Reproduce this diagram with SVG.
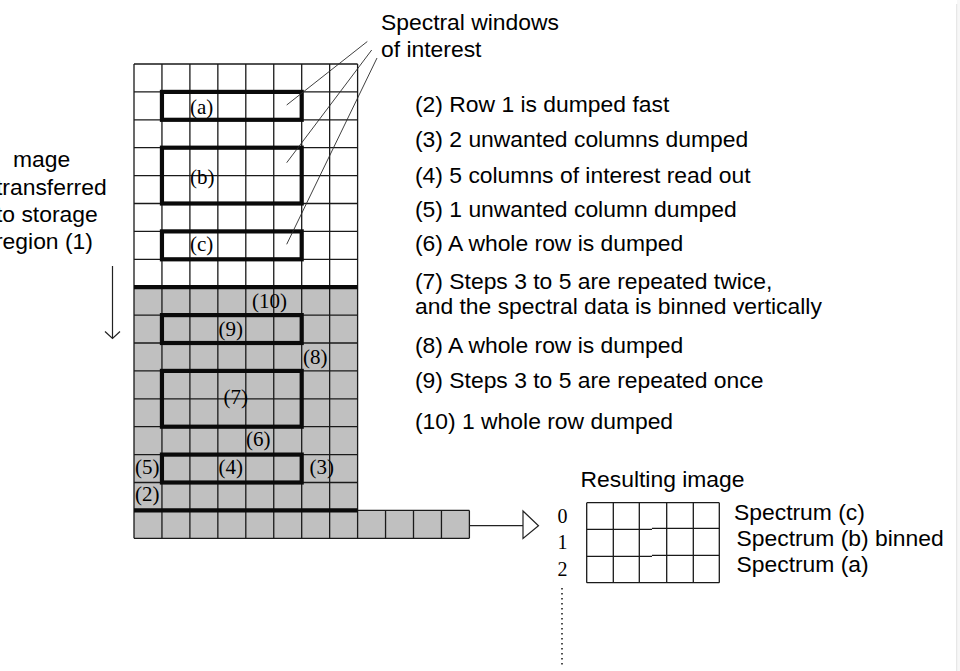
<svg xmlns="http://www.w3.org/2000/svg" width="960" height="671" viewBox="0 0 960 671">
<style>
.sans{font-family:"Liberation Sans",Arial,sans-serif;font-size:22px;fill:#000}
.serif{font-family:"Liberation Serif","Times New Roman",serif;font-size:21px;fill:#000}
.num{font-family:"Liberation Serif","Times New Roman",serif;font-size:20px;fill:#000;text-anchor:middle}
.thin{fill:none;stroke:#1a1a1a;stroke-width:1.3}
.thick{fill:none;stroke:#0a0a0a;stroke-width:4.2;stroke-linejoin:miter}
.lead{fill:none;stroke:#2a2a2a;stroke-width:0.9}
.conn{fill:none;stroke:#222;stroke-width:1.2}
</style>
<rect x="0" y="0" width="960" height="671" fill="#ffffff"/>
<rect x="957" y="0" width="3" height="671" fill="#f7f7f7"/>
<line x1="956.7" y1="4" x2="956.7" y2="671" stroke="#e2e2e2" stroke-width="1"/>

<g id="ccd-grid">
  <rect x="134" y="64" width="223.6" height="223.2" fill="#ffffff"/>
  <rect x="134" y="287.2" width="223.6" height="251.1" fill="#c0c0c0"/>
  <rect x="357.6" y="510.4" width="111.8" height="27.9" fill="#c0c0c0"/>
  <path class="thin" d="M134 64V538.3M161.95 64V538.3M189.9 64V538.3M217.85 64V538.3M245.8 64V538.3M273.75 64V538.3M301.7 64V538.3M329.65 64V538.3M357.6 64V538.3"/>
  <path class="thin" d="M134 64H357.6M134 91.9H357.6M134 119.8H357.6M134 147.7H357.6M134 175.6H357.6M134 203.5H357.6M134 231.4H357.6M134 259.3H357.6M134 315.1H357.6M134 343H357.6M134 370.9H357.6M134 398.8H357.6M134 426.7H357.6M134 454.6H357.6M134 482.5H357.6M134 538.3H469.4"/>
  <path class="thin" d="M357.6 510.4H469.4M385.55 510.4V538.3M413.5 510.4V538.3M441.45 510.4V538.3M469.4 510.4V538.3"/>
  <path class="thick" d="M134 287.2H357.6M134 510.4H357.6"/>
</g>

<g id="window-a"><rect class="thick" x="161.95" y="91.9" width="139.75" height="27.9"/><text class="serif" x="190" y="114">(a)</text></g>
<g id="window-b"><rect class="thick" x="161.95" y="147.7" width="139.75" height="55.8"/><text class="serif" x="190" y="184">(b)</text></g>
<g id="window-c"><rect class="thick" x="161.95" y="231.4" width="139.75" height="27.9"/><text class="serif" x="190" y="251">(c)</text></g>
<g id="window-9"><rect class="thick" x="161.95" y="315.1" width="139.75" height="27.9"/><text class="serif" x="218.5" y="336">(9)</text></g>
<g id="window-7"><rect class="thick" x="161.95" y="370.9" width="139.75" height="55.8"/><text class="serif" x="223.5" y="404">(7)</text></g>
<g id="window-4"><rect class="thick" x="161.95" y="454.6" width="139.75" height="27.9"/><text class="serif" x="218.5" y="474">(4)</text></g>

<g id="step-labels">
  <text class="serif" x="252" y="308">(10)</text>
  <text class="serif" x="303" y="364">(8)</text>
  <text class="serif" x="246" y="446">(6)</text>
  <text class="serif" x="135" y="474">(5)</text>
  <text class="serif" x="309.5" y="474">(3)</text>
  <text class="serif" x="135" y="501">(2)</text>
</g>

<g id="title-windows">
  <text class="sans" transform="translate(381 30) scale(1.04 1)">Spectral windows</text>
  <text class="sans" transform="translate(381 57) scale(1.04 1)">of interest</text>
</g>

<g id="left-note">
  <text class="sans" transform="translate(13 166.5) scale(1.04 1)">mage</text>
  <text class="sans" transform="translate(-4 194.5) scale(1.04 1)">transferred</text>
  <text class="sans" transform="translate(-4 222) scale(1.04 1)">to storage</text>
  <text class="sans" transform="translate(-5 249) scale(1.04 1)">region (1)</text>
</g>

<g id="steps-list">
  <text class="sans" transform="translate(415 112) scale(1.04 1)">(2) Row 1 is dumped fast</text>
  <text class="sans" transform="translate(415 147) scale(1.04 1)">(3) 2 unwanted columns dumped</text>
  <text class="sans" transform="translate(415 183) scale(1.04 1)">(4) 5 columns of interest read out</text>
  <text class="sans" transform="translate(415 217) scale(1.04 1)">(5) 1 unwanted column dumped</text>
  <text class="sans" transform="translate(415 251) scale(1.04 1)">(6) A whole row is dumped</text>
  <text class="sans" transform="translate(415 289) scale(1.04 1)">(7) Steps 3 to 5 are repeated twice,</text>
  <text class="sans" transform="translate(415 314) scale(1.04 1)">and the spectral data is binned vertically</text>
  <text class="sans" transform="translate(415 353) scale(1.04 1)">(8) A whole row is dumped</text>
  <text class="sans" transform="translate(415 388) scale(1.04 1)">(9) Steps 3 to 5 are repeated once</text>
  <text class="sans" transform="translate(415 429) scale(1.04 1)">(10) 1 whole row dumped</text>
</g>

<g id="result-image">
  <text class="sans" transform="translate(580.5 487) scale(1.04 1)">Resulting image</text>
  <path class="thin" d="M586.7 502.7H719.3M586.7 582.7H719.3M586.7 529.3H652M652 528.3H719.3M586.7 556.3H652M652 555.3H719.3M586.7 502.7V582.7M613.3 502.7V582.7M639.3 502.7V582.7M666.7 502.7V582.7M693.3 502.7V582.7M719.3 502.7V582.7"/>
  <text class="num" x="562.5" y="523">0</text>
  <text class="num" x="562.5" y="548.5">1</text>
  <text class="num" x="562.5" y="576">2</text>
  <text class="sans" transform="translate(734 520) scale(1.04 1)">Spectrum (c)</text>
  <text class="sans" transform="translate(736.5 546) scale(1.04 1)">Spectrum (b) binned</text>
  <text class="sans" transform="translate(736.5 572) scale(1.04 1)">Spectrum (a)</text>
</g>

<g id="connectors">
  <line class="lead" x1="367.3" y1="41.5" x2="286.7" y2="105"/>
  <line class="lead" x1="371.7" y1="50" x2="286.7" y2="162.7"/>
  <line class="lead" x1="377" y1="58" x2="286.7" y2="244.3"/>
  <path class="conn" d="M112.5 266V338.5M105 331.5L112.5 338.5L120 331.5"/>
  <path class="conn" d="M469.4 525.7H523"/>
  <path class="conn" d="M523 511L538.5 525.7L523 538.5Z" style="fill:#fff"/>
  <line x1="562" y1="588" x2="562" y2="665" stroke="#222" stroke-width="1.6" stroke-dasharray="1.4 3.6"/>
</g>
</svg>
